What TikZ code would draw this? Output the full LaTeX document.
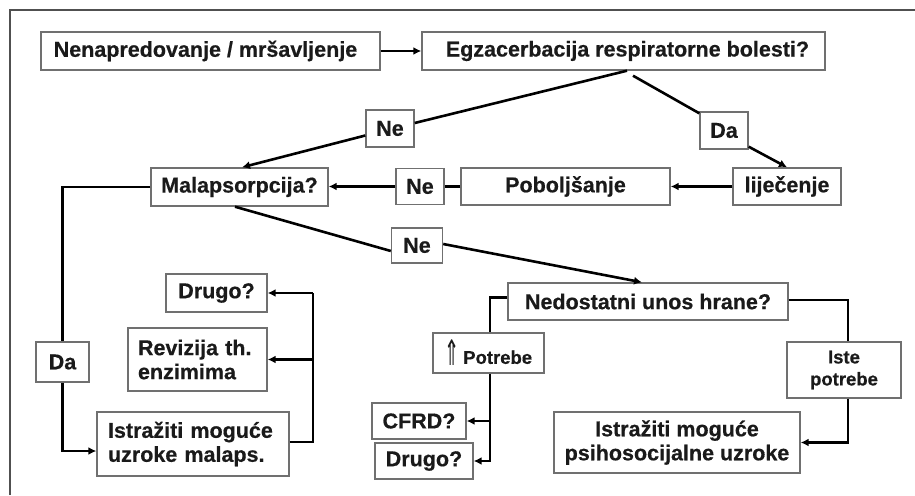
\documentclass[tikz,border=0pt]{standalone}
\usepackage{fontspec}
\setmainfont{Liberation Sans}[BoldFeatures={FakeBold=0.5}]
\newfontfamily\dvfont{DejaVu Sans}
\usetikzlibrary{arrows.meta,calc}
\definecolor{boxgray}{HTML}{707070}
\definecolor{framegray}{HTML}{505050}
\definecolor{ink}{HTML}{1A1A1A}
\begin{document}
\begin{tikzpicture}[x=1pt,y=-1pt,
 box/.style={draw=boxgray,line width=1.4pt,fill=white,inner sep=0pt,text=ink,font=\bfseries\fontsize{21.5}{24}\selectfont,align=center},
 smallbox/.style={box,font=\bfseries\fontsize{18.5}{22}\selectfont},
 conn/.style={line width=2.6pt,black},
 arr/.style={conn,-{Latex[length=8pt,width=8pt]}},
]
\useasboundingbox (0,0) rectangle (915,495);
\draw[framegray,line width=2pt] (10,495) -- (10,10) -- (915,10);

\node[box,minimum width=339pt,minimum height=38pt] (nen) at (210.5,51) {\hspace*{-10pt}Nenapredovanje / mršavljenje};
\node[box,minimum width=403pt,minimum height=38pt] (egz) at (623.5,51) {\hspace*{8pt}Egzacerbacija respiratorne bolesti?};
\node[box,minimum width=48pt,minimum height=37pt] (ne1) at (390,128.5) {Ne};
\node[box,minimum width=48pt,minimum height=37pt] (da1) at (724,130.5) {Da};
\node[box,minimum width=177pt,minimum height=38pt] (mal) at (239.5,187) {Malapsorpcija?};
\node[box,minimum width=48pt,minimum height=36pt] (ne2) at (420,186.5) {Ne};
\node[box,minimum width=209pt,minimum height=37pt] (pob) at (565.5,186.5) {Poboljšanje};
\node[box,minimum width=108pt,minimum height=37pt] (lij) at (787,186.5) {liječenje};
\node[box,minimum width=51pt,minimum height=35pt] (ne3) at (417,245.5) {Ne};
\node[box,minimum width=280pt,minimum height=37pt] (ned) at (648,301.5) {Nedostatni unos hrane?};
\node[smallbox,minimum width=111pt,minimum height=40pt] (pot) at (488.5,353) {\raisebox{-2pt}{\scalebox{0.7}[1.35]{\dvfont\mdseries\fontsize{26}{26}\selectfont ⇑}}\,Potrebe};
\node[box,minimum width=94pt,minimum height=36pt] (cfrd) at (419,421) {CFRD?};
\node[box,minimum width=98pt,minimum height=36pt] (drugoR) at (424,461) {Drugo?};
\node[smallbox,minimum width=114pt,minimum height=56pt] (iste) at (844,370) {Iste\\potrebe};
\node[box,minimum width=246pt,minimum height=61pt] (psy) at (677,442.5) {Istražiti moguće\\psihosocijalne uzroke};
\node[box,minimum width=53pt,minimum height=40pt] (da2) at (62.5,362) {Da};
\node[box,minimum width=192pt,minimum height=64pt,inner xsep=11pt,text width=170pt,align=left] (istm) at (193,444) {Istražiti moguće\\uzroke malaps.};
\node[box,minimum width=139pt,minimum height=63pt,inner xsep=10pt,text width=119pt,align=left] (revz) at (197.5,359.5) {Revizija th.\\enzimima};
\node[box,minimum width=101pt,minimum height=38pt] (drugoL) at (216.5,293) {Drugo?};

% top row
\draw[arr] (nen.east) -- (egz.west);
\draw[conn] ([xshift=3.5pt]egz.south) -- ([yshift=5.5pt]ne1.east);
\draw[arr] ([yshift=-7pt]ne1.west) -- ([xshift=2.5pt]mal.north);
\draw[conn] ([xshift=9.5pt,yshift=-5pt]egz.south) -- ([yshift=-2pt]da1.north west);
\draw[arr] ([yshift=3pt]da1.south east) -- (lij.north);

% middle row
\draw[arr] (lij.west) -- (pob.east);
\draw[conn] (pob.west) -- (ne2.east);
\draw[arr] (ne2.west) -- (ne2.west -| mal.east);

% lower Ne branch
\draw[conn] ([xshift=-4.5pt]mal.south) -- ([yshift=-5.5pt]ne3.west);
\draw[arr] ([yshift=1.5pt]ne3.east) -- ([xshift=-6pt]ned.north);

% Nedostatni branches
\draw[conn] ([yshift=4pt]ned.west) -| ([xshift=1.5pt]pot.north);
\draw[arr] ([xshift=1.5pt]pot.south) |- (drugoR.east);
\draw[arr] ([xshift=1.5pt]pot.south |- cfrd.east) -- (cfrd.east);
\draw[conn] ([yshift=1.5pt]ned.east) -| ([xshift=4pt]iste.north);
\draw[arr] ([xshift=4pt]iste.south) |- (psy.east);

% Malapsorpcija yes branch
\draw[conn] (mal.west) -| (da2.north);
\draw[arr] (da2.south) |- ([yshift=-7pt]istm.west);
\coordinate (busL) at (313,0);
\draw[conn] ([yshift=2pt]istm.east) -| (busL |- drugoL.east);
\draw[arr] (busL |- drugoL.east) -- (drugoL.east);
\draw[arr] (busL |- revz.east) -- (revz.east);
\end{tikzpicture}
\end{document}
